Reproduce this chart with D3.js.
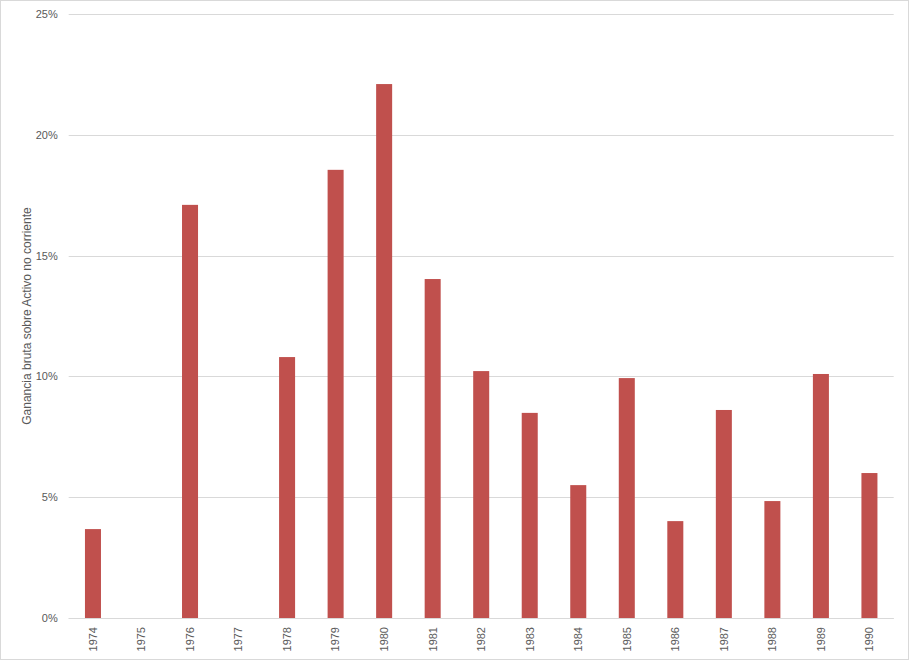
<!DOCTYPE html>
<html><head><meta charset="utf-8">
<script src="https://cdn.jsdelivr.net/npm/d3@7"></script>
<style>body{margin:0;background:#fff;}svg{display:block;}text{font-family:"Liberation Sans","DejaVu Sans",sans-serif;}</style>
</head><body>
<svg id="c" width="909" height="660"></svg>
<script>
const categories = ["1974","1975","1976","1977","1978","1979","1980","1981","1982","1983","1984","1985","1986","1987","1988","1989","1990"];
const values = [3.68, null, 17.1, null, 10.8, 18.55, 22.1, 14.03, 10.22, 8.49, 5.5, 9.93, 4.01, 8.61, 4.84, 10.1, 6.0];
const yTicks = [0, 5, 10, 15, 20, 25];
const yTitle = "Ganancia bruta sobre Activo no corriente";

const svg = d3.select("#c");
svg.append("rect").attr("x",0.5).attr("y",0.5).attr("width",908).attr("height",659)
  .attr("fill","#fff").attr("stroke","#d9d9d9");

const m = {l:68.7, r:893.7, t:14, b:618};
const x = d3.scaleBand().domain(categories).range([m.l, m.r]).paddingInner(0.67).paddingOuter(0.335);
const y = d3.scaleLinear().domain([0,25]).range([m.b, m.t]);

const grid = svg.append("g");
grid.selectAll("line").data(yTicks).join("line")
  .attr("x1", m.l).attr("x2", m.r)
  .attr("y1", d=>Math.round(y(d))+0.5).attr("y2", d=>Math.round(y(d))+0.5)
  .attr("stroke","#d9d9d9").attr("stroke-width",1);

const yAxis = d3.axisLeft(y).tickValues(yTicks).tickFormat(d=>d+"%").tickSize(0).tickPadding(11);
const ya = svg.append("g").attr("transform",`translate(${m.l},0)`).call(yAxis);
ya.select(".domain").remove();
ya.selectAll("text").attr("fill","#595959").style("font-size","11px");

svg.append("g").selectAll("rect").data(categories.map((c,i)=>({c, v:values[i]})).filter(d=>d.v!=null))
  .join("rect")
  .attr("x", d=>x(d.c)).attr("width", x.bandwidth())
  .attr("y", d=>y(d.v)).attr("height", d=>y(0)-y(d.v))
  .attr("fill","#c0504d");

const xAxis = d3.axisBottom(x).tickSize(0).tickPadding(0);
const xa = svg.append("g").attr("transform",`translate(0,${m.b})`).call(xAxis);
xa.select(".domain").attr("stroke","#d9d9d9").attr("d",`M${m.l},0.5H${m.r}`);
xa.selectAll("text").attr("fill","#595959").style("font-size","11px")
  .attr("transform","rotate(-90)").attr("text-anchor","end")
  .attr("x",-9).attr("y",0).attr("dy","0.35em");

svg.append("text").attr("transform",`translate(31,${(m.t+m.b)/2}) rotate(-90)`)
  .attr("text-anchor","middle").attr("fill","#595959").style("font-size","12px").text(yTitle);
</script>
</body></html>
